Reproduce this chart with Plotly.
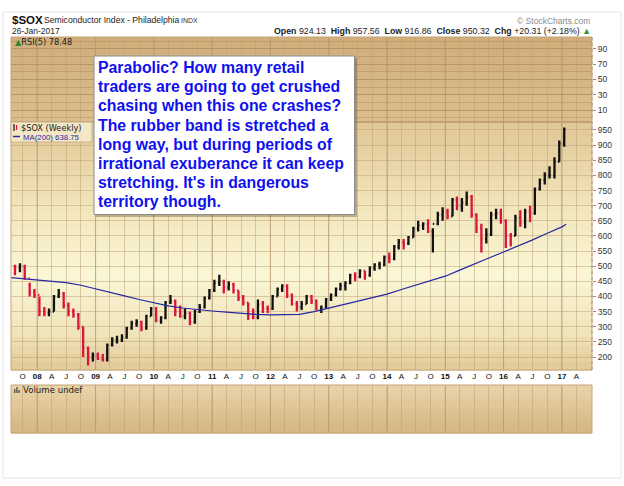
import plotly.graph_objects as go

W, H = 624, 486


def px(x):
    return x / W


def py(y):
    return 1 - y / H


# ---------------- data ----------------
# Monthly bars, Aug 2007 .. Jan 2017 (weekly chart summarised per month)
bar_first_year, bar_first_month = 2007, 8
highs = [
    505, 510, 505, 445, 425,
    400, 365, 360, 405, 425, 415, 380, 360, 345, 300, 235, 215,
    215, 210, 245, 265, 270, 275, 300, 320, 325, 320, 340, 365,
    365, 335, 385, 405, 390, 370, 360, 350, 355, 375, 400, 425,
    455, 472, 455, 450, 445, 420, 405, 380, 360, 390, 385, 370,
    405, 430, 440, 440, 410, 385, 385, 405, 405, 390, 370, 395,
    410, 430, 445, 450, 475, 480, 490, 485, 500, 510, 515, 535,
    545, 570, 590, 590, 600, 630, 650, 645, 655, 625, 680, 695,
    690, 725, 730, 725, 747, 735, 675, 640, 625, 680, 690, 690,
    655, 610, 670, 685, 690, 700, 760, 790, 810, 830, 860, 915,
    958,
]
lows = [
    470, 480, 455, 400, 395,
    335, 335, 335, 350, 395, 360, 335, 330, 290, 200, 172, 185,
    190, 185, 185, 235, 245, 250, 260, 290, 300, 285, 290, 335,
    315, 310, 325, 375, 335, 330, 325, 305, 310, 345, 360, 390,
    415, 435, 410, 420, 410, 385, 370, 322, 325, 325, 345, 345,
    355, 400, 415, 395, 370, 350, 355, 375, 375, 355, 345, 360,
    385, 400, 420, 420, 440, 450, 460, 455, 465, 485, 490, 500,
    510, 520, 555, 555, 570, 595, 615, 620, 610, 545, 635, 650,
    655, 665, 685, 680, 700, 660, 610, 545, 575, 600, 655, 640,
    560, 565, 600, 630, 625, 645, 670, 750, 770, 790, 790, 845,
    895,
]
closes = [
    495, 500, 460, 415, 405,
    350, 345, 350, 400, 410, 370, 350, 340, 300, 230, 200, 205,
    195, 190, 240, 255, 255, 265, 295, 310, 315, 295, 335, 360,
    320, 330, 380, 385, 350, 335, 345, 315, 350, 365, 395, 420,
    445, 450, 430, 440, 420, 395, 380, 340, 330, 375, 360, 360,
    400, 425, 435, 405, 375, 365, 375, 400, 385, 360, 365, 390,
    405, 425, 435, 445, 470, 465, 485, 470, 495, 505, 505, 530,
    525, 565, 580, 575, 595, 625, 635, 640, 615, 640, 670, 680,
    665, 720, 700, 710, 730, 670, 625, 590, 605, 670, 675, 650,
    600, 600, 660, 645, 680, 675, 755, 785, 800, 800, 845, 905,
    950,
]
first_open = 500
opens = [first_open] + closes[:-1]

# 200-week moving average, read quarterly
ma_dates = [
    "2007-07-01", "2007-10-01",
    "2008-01-01", "2008-04-01", "2008-07-01", "2008-10-01",
    "2009-01-01", "2009-04-01", "2009-07-01", "2009-10-01",
    "2010-01-01", "2010-04-01", "2010-07-01", "2010-10-01",
    "2011-01-01", "2011-04-01", "2011-07-01", "2011-10-01",
    "2012-01-01", "2012-04-01", "2012-07-01", "2012-10-01",
    "2013-01-01", "2013-04-01", "2013-07-01", "2013-10-01",
    "2014-01-01", "2014-04-01", "2014-07-01", "2014-10-01",
    "2015-01-01", "2015-04-01", "2015-07-01", "2015-10-01",
    "2016-01-01", "2016-04-01", "2016-07-01", "2016-10-01",
    "2017-01-01", "2017-01-27",
]
ma_values = [
    463, 459,
    455, 450, 446, 437,
    426, 414, 402, 390,
    379, 369, 362, 356,
    352, 348, 344, 341,
    339, 339, 341, 350,
    362, 374, 386, 396,
    408, 423, 438, 452,
    467, 487, 508, 527,
    547, 566, 587, 609,
    630, 638.75,
]

price_ticks = [200, 250, 300, 350, 400, 450, 500, 550, 600, 650, 700, 750, 800, 850, 900, 950]
rsi_ticks = [10, 30, 50, 70, 90]
x_tick_text = [
    "O",
    "08", "A", "J", "O", "09", "A", "J", "O", "10", "A", "J", "O",
    "11", "A", "J", "O", "12", "A", "J", "O", "13", "A", "J", "O",
    "14", "A", "J", "O", "15", "A", "J", "O", "16", "A", "J", "O",
    "17", "A",
]

title_symbol = "$SOX"
title_name = "Semiconductor Index - Philadelphia"
title_exchange = "INDX"
chart_date = "26-Jan-2017"
quote = [("Open", "924.13"), ("High", "957.56"), ("Low", "916.86"),
         ("Close", "950.32"), ("Chg", "+20.31 (+2.18%)")]
rsi_label = "RSI(5) 78.48"
price_label = "$SOX (Weekly)"
ma_label = "MA(200) 638.75"
volume_label = "Volume undef"
comment_lines = [
    "Parabolic? How many retail",
    "traders are going to get crushed",
    "chasing when this one crashes?",
    "The rubber band is stretched a",
    "long way, but during periods of",
    "irrational exuberance it can keep",
    "stretching. It's in dangerous",
    "territory though.",
]

# ---------------- derived positions ----------------
bar_dates = []
yy, mm = bar_first_year, bar_first_month
for _ in closes:
    bar_dates.append(f"{yy}-{mm:02d}-15")
    mm += 1
    if mm > 12:
        mm, yy = 1, yy + 1

x_tick_vals = []
yy, mm = 2007, 10
for _ in x_tick_text:
    x_tick_vals.append(f"{yy}-{mm:02d}-01")
    mm += 3
    if mm > 12:
        mm, yy = mm - 12, yy + 1
x_tick_labels = [f"<b>{t}</b>" if t.isdigit() else t for t in x_tick_text]
year_lines = [v for v, t in zip(x_tick_vals, x_tick_text) if t.isdigit()]

# panel geometry in pixels
L, R = 11, 592
RSI_T, RSI_B = 37, 122
PR_T, PR_B = 122, 370
VOL_T, VOL_B = 385, 433

FONT = "Liberation Sans"
GRID = "rgba(190,160,112,0.50)"

fig = go.Figure()
fig.add_trace(go.Ohlc(
    x=bar_dates, open=opens, high=highs, low=lows, close=closes,
    increasing=dict(line=dict(color="#111111", width=2.3)),
    decreasing=dict(line=dict(color="#dc143c", width=2.3)),
    tickwidth=0.3, xaxis="x", yaxis="y", showlegend=False, hoverinfo="skip"))
fig.add_trace(go.Scatter(
    x=ma_dates, y=ma_values, mode="lines",
    line=dict(color="#2626a2", width=1.2), xaxis="x", yaxis="y",
    showlegend=False, hoverinfo="skip"))
fig.add_trace(go.Scatter(x=[None], y=[None], xaxis="x2", yaxis="y2", showlegend=False))
fig.add_trace(go.Scatter(x=[None], y=[None], xaxis="x3", yaxis="y3", showlegend=False))

x_range = ["2007-07-21", "2017-07-08"]
common_x = dict(type="date", range=x_range, tickmode="array", tickvals=x_tick_vals,
                showgrid=True, gridcolor=GRID, gridwidth=1, zeroline=False,
                showline=False, domain=[px(L), px(R)], fixedrange=True)

shapes = []


def gradient(top, bottom, stops, n):
    h = (bottom - top) / n
    for i in range(n):
        f = (i + 0.5) / n
        for j in range(len(stops) - 1):
            f0, c0 = stops[j]
            f1, c1 = stops[j + 1]
            if f0 <= f <= f1:
                t = (f - f0) / (f1 - f0)
                c = [round(c0[k] + (c1[k] - c0[k]) * t) for k in range(3)]
                break
        shapes.append(dict(type="rect", xref="paper", yref="paper",
                           x0=px(L), x1=px(R), y0=py(top + (i + 1) * h + 0.5),
                           y1=py(top + i * h), fillcolor=f"rgb({c[0]},{c[1]},{c[2]})",
                           line=dict(width=0), layer="below"))


gradient(RSI_T, RSI_B, [(0, (208, 173, 123)), (1, (220, 190, 142))], 10)
gradient(PR_T, PR_B, [(0, (224, 198, 150)), (0.35, (242, 230, 188)), (0.62, (250, 246, 214)),
                      (0.85, (240, 228, 186)), (1, (225, 200, 152))], 30)
gradient(VOL_T, VOL_B, [(0, (233, 213, 170)), (1, (212, 180, 130))], 10)

# darker year gridlines
for d in year_lines:
    for t, b in ((RSI_T, RSI_B), (PR_T, PR_B), (VOL_T, VOL_B)):
        shapes.append(dict(type="line", xref="x", yref="paper", x0=d, x1=d,
                           y0=py(b), y1=py(t), line=dict(color="rgba(160,128,88,0.55)", width=1),
                           layer="below"))

# panel borders
for t, b in ((RSI_T, RSI_B), (PR_T, PR_B), (VOL_T, VOL_B)):
    shapes.append(dict(type="rect", xref="paper", yref="paper", x0=px(L), x1=px(R),
                       y0=py(b), y1=py(t), line=dict(color="#c4a576", width=1),
                       fillcolor="rgba(0,0,0,0)", layer="above"))
shapes.append(dict(type="line", xref="paper", yref="paper", x0=px(L), x1=px(R),
                   y0=py(RSI_B), y1=py(RSI_B), line=dict(color="#b8966a", width=1)))
# dotted right axis line
shapes.append(dict(type="line", xref="paper", yref="paper", x0=px(R), x1=px(R),
                   y0=py(PR_B), y1=py(RSI_T), line=dict(color="#b48f86", width=1, dash="dot")))
# outer frame
shapes.append(dict(type="rect", xref="paper", yref="paper", x0=px(3), x1=px(621),
                   y0=py(478), y1=py(12), line=dict(color="#e4e4e4", width=1),
                   fillcolor="rgba(0,0,0,0)", layer="below"))
# legend box in price panel
shapes.append(dict(type="rect", xref="paper", yref="paper", x0=px(L), x1=px(92),
                   y0=py(142), y1=py(PR_T), line=dict(color="#c9b48a", width=1),
                   fillcolor="rgba(246,236,206,0.85)", layer="above"))
# legend glyphs
shapes.append(dict(type="line", xref="paper", yref="paper", x0=px(14), x1=px(14),
                   y0=py(131), y1=py(124), line=dict(color="#111", width=1.2)))
shapes.append(dict(type="line", xref="paper", yref="paper", x0=px(16.5), x1=px(16.5),
                   y0=py(130), y1=py(125), line=dict(color="#dc143c", width=1.2)))
shapes.append(dict(type="line", xref="paper", yref="paper", x0=px(13), x1=px(20),
                   y0=py(136.5), y1=py(136.5), line=dict(color="#2a2aa8", width=1.5)))
# volume glyph
for i, hgt in enumerate((4, 6, 3)):
    shapes.append(dict(type="rect", xref="paper", yref="paper",
                       x0=px(14 + i * 2.2), x1=px(15.4 + i * 2.2),
                       y0=py(393), y1=py(393 - hgt), fillcolor="#555", line=dict(width=0)))
# comment box: shadow then white box
shapes.append(dict(type="rect", xref="paper", yref="paper", x0=px(96), x1=px(357),
                   y0=py(217), y1=py(58), fillcolor="rgba(80,60,30,0.35)", line=dict(width=0),
                   layer="above"))
shapes.append(dict(type="rect", xref="paper", yref="paper", x0=px(94), x1=px(354.5),
                   y0=py(214.5), y1=py(56), fillcolor="#ffffff",
                   line=dict(color="#8c8c8c", width=1), layer="above"))

annotations = []


def note(text, x, y, size, color="#111", xanchor="left", family=FONT, **kw):
    annotations.append(dict(text=text, x=px(x), y=py(y), xref="paper", yref="paper",
                            xanchor=xanchor, yanchor="middle", showarrow=False,
                            font=dict(size=size, color=color, family=family), **kw))


note(f"<b>{title_symbol}</b>", 10, 20, 11.5)
note(title_name, 42, 20, 8.6, color="#222")
note(title_exchange, 179, 20.5, 7, color="#333")
note(chart_date, 10, 31.5, 8.5, color="#222")
note("© StockCharts.com", 592, 20.5, 8.5, color="#8a8a8a", xanchor="right")
quote_text = "  ".join(f"<b>{k}</b> {v}" for k, v in quote)
note(quote_text + " <span style='color:#2a9a2a'>▲</span>", 593, 31.5, 8.8, color="#222",
     xanchor="right")
note("<span style='color:#2a8a2a'>▲</span>" + rsi_label, 13, 42, 8.2, color="#222",
     family="DejaVu Sans")
note(price_label, 19, 128, 8.2, color="#222", family="DejaVu Sans")
note(ma_label, 21, 137, 7.8, color="#2a2aa8")
note(volume_label, 21, 389.5, 8.6, color="#222", family="DejaVu Sans")

for i, line in enumerate(comment_lines):
    annotations.append(dict(
        text=f"<b>{line}</b>", x=px(96), y=py(67.5 + i * 19.2), xref="paper", yref="paper",
        xanchor="left", yanchor="middle", showarrow=False, align="left",
        font=dict(size=15.8, color="#1010ee", family=FONT)))

fig.update_layout(
    width=W, height=H, margin=dict(l=0, r=0, t=0, b=0),
    paper_bgcolor="#ffffff", plot_bgcolor="rgba(0,0,0,0)",
    showlegend=False,
    xaxis=dict(**common_x, anchor="y", ticktext=x_tick_labels, ticks="",
               tickfont=dict(size=8, color="#111", family=FONT),
               ticklabelstandoff=0, rangeslider=dict(visible=False)),
    xaxis2=dict(**common_x, anchor="y2", matches="x", showticklabels=False, ticks=""),
    xaxis3=dict(**common_x, anchor="y3", matches="x", showticklabels=False, ticks=""),
    yaxis=dict(domain=[py(PR_B), py(PR_T)], range=[157.1, 976.4], side="right", anchor="x",
               tickmode="array", tickvals=price_ticks, ticks="outside", ticklen=3,
               tickcolor="#a88", showgrid=True, gridcolor=GRID, zeroline=False,
               showline=False, tickfont=dict(size=8.5, color="#333", family=FONT),
               fixedrange=True),
    yaxis2=dict(domain=[py(RSI_B), py(RSI_T)], range=[-5.7, 105.7], side="right", anchor="x2",
                tickmode="array", tickvals=rsi_ticks, ticks="outside", ticklen=3,
                tickcolor="#a88", showgrid=True, gridcolor="rgba(170,135,90,0.45)",
                zeroline=False, showline=False,
                minor=dict(dtick=10, tick0=0, showgrid=True, gridcolor="rgba(170,135,90,0.45)"),
                tickfont=dict(size=8.5, color="#333", family=FONT), fixedrange=True),
    yaxis3=dict(domain=[py(VOL_B), py(VOL_T)], range=[0, 1], side="right", anchor="x3",
                showticklabels=False, showgrid=False, zeroline=False, showline=False,
                fixedrange=True),
    shapes=shapes,
    annotations=annotations,
)

fig.write_html("out.html")
